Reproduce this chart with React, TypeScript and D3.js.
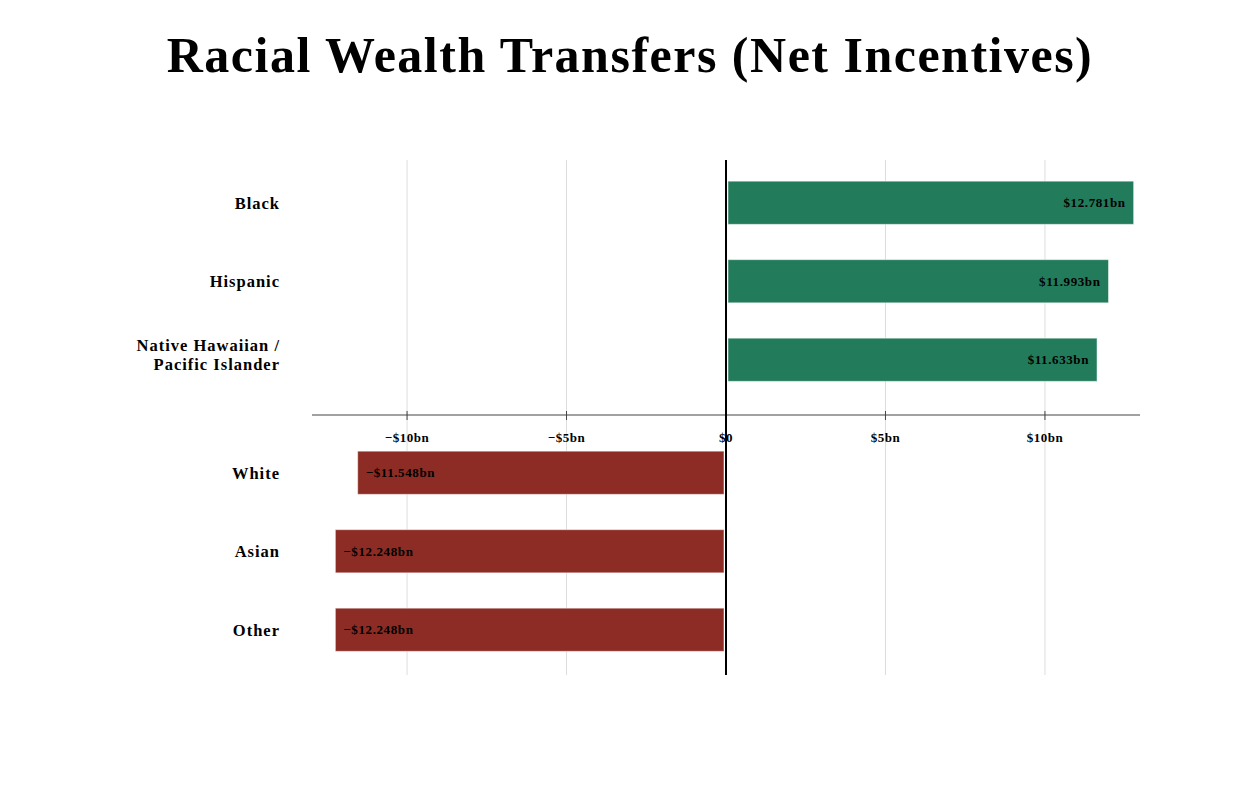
import React from "react";
import * as d3 from "d3";

const categories = ["Black", "Hispanic", "Native Hawaiian / Pacific Islander", "White", "Asian", "Other"];
const values = [12.781, 11.993, 11.633, -11.548, -12.248, -12.248];
const tickValues = [-10, -5, 0, 5, 10];
const labelLines: Record<string, string[]> = {
  "Native Hawaiian / Pacific Islander": ["Native Hawaiian /", "Pacific Islander"],
};

const W = 1260;
const H = 785;
const FONT = "'Liberation Serif', 'DejaVu Serif', serif";
const GREEN = "#227b5a";
const RED = "#8c2c24";

export default function App() {
  const x = d3.scaleLinear().domain([-12.98, 12.98]).range([312, 1140]);
  const y = d3.scaleBand<string>().domain(categories).range([163.5, 634.5]).paddingInner(0.45).paddingOuter(0.225);
  const gapOffset = 34.5;
  const yPos = (c: string, i: number) => (y(c) as number) + (i >= 3 ? gapOffset : 0);
  const axisY = 415;
  const gridTop = 160;
  const gridBottom = 675;
  const fmt = (v: number) => (v < 0 ? "\u2212$" : "$") + Math.abs(v).toFixed(3) + "bn";
  const tickFmt = (v: number) => (v === 0 ? "$0" : (v < 0 ? "\u2212$" : "$") + Math.abs(v) + "bn");
  const bw = y.bandwidth();
  return (
    <svg width={W} height={H} style={{ display: "block", position: "absolute", left: 0, top: 0 }} fontFamily={FONT}>
      <rect width={W} height={H} fill="#fff" />
      <text x={630} y={72} textAnchor="middle" fontSize={50} fontWeight="bold" fill="#000" letterSpacing={1.5}>
        Racial Wealth Transfers (Net Incentives)
      </text>
      {tickValues.map((t) => (
        <line key={"g" + t} x1={x(t)} x2={x(t)} y1={gridTop} y2={gridBottom} stroke="#dddddd" strokeWidth={1} />
      ))}
      {categories.map((c, i) => {
        const v = values[i];
        const x0 = v >= 0 ? x(0) + 2 : x(v);
        const x1 = v >= 0 ? x(v) : x(0) - 2;
        const top = yPos(c, i);
        return (
          <g key={c}>
            <rect x={x0} y={top} width={x1 - x0} height={bw} fill={v >= 0 ? GREEN : RED} stroke="#ffffff" strokeOpacity={0.5} strokeWidth={1} />
            <text
              x={v >= 0 ? x1 - 8 : x0 + 8}
              y={top + bw / 2}
              dy="0.35em"
              textAnchor={v >= 0 ? "end" : "start"}
              fontSize={13}
              letterSpacing={0.6}
              fontWeight="bold"
              fill="#000"
            >
              {fmt(v)}
            </text>
          </g>
        );
      })}
      <line x1={312} x2={1140} y1={axisY} y2={axisY} stroke="#444" strokeWidth={1.2} />
      {tickValues.map((t) => (
        <g key={"t" + t}>
          <line x1={x(t)} x2={x(t)} y1={axisY - 4} y2={axisY + 5} stroke="#444" strokeWidth={1} />
          <text x={x(t)} y={437} dy="0.35em" textAnchor="middle" fontSize={13} letterSpacing={0.5} fontWeight="bold" fill="#000">
            {tickFmt(t)}
          </text>
        </g>
      ))}
      <line x1={x(0)} x2={x(0)} y1={gridTop} y2={gridBottom} stroke="#000" strokeWidth={2} />
      {categories.map((c, i) => {
        const lines = labelLines[c] || [c];
        const cy = yPos(c, i) + bw / 2;
        const first = lines.length === 1 ? 5.8 : -8.7;
        return (
          <text key={"l" + c} x={280} y={cy} textAnchor="end" fontSize={16.5} letterSpacing={1} fontWeight="bold" fill="#000">
            {lines.map((ln, k) => (
              <tspan key={k} x={280} dy={k === 0 ? first : 19}>
                {ln}
              </tspan>
            ))}
          </text>
        );
      })}
    </svg>
  );
}
